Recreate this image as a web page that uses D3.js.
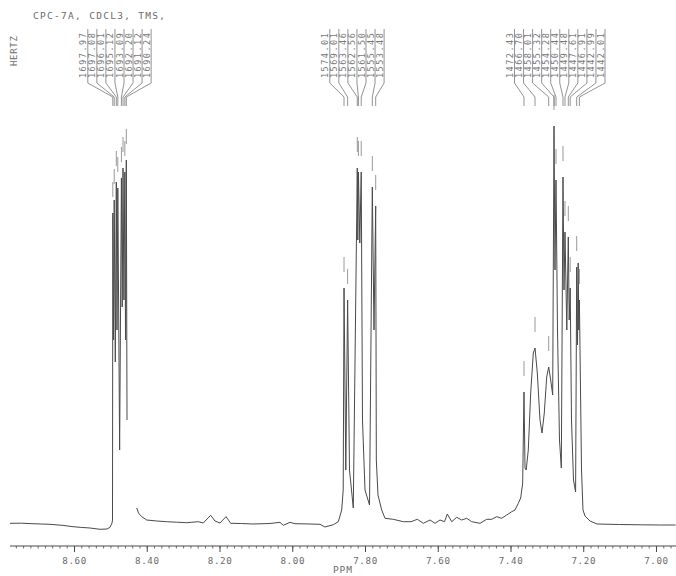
<!DOCTYPE html>
<html>
<head>
<meta charset="utf-8">
<script src="https://cdn.jsdelivr.net/npm/d3@7"></script>
<style>
  html, body { margin: 0; padding: 0; background: #fff; }
  svg { display: block; }
  text { font-family: "DejaVu Sans Mono", "Liberation Mono", monospace; }
</style>
</head>
<body>
<svg id="chart" width="676" height="576"></svg>
<script>
// ---------------- DATA ----------------
const titleText = "CPC-7A, CDCL3, TMS,";
const yUnitText = "HERTZ";
const xAxisTitle = "PPM";
const tickLabels = ["8.60", "8.40", "8.20", "8.00", "7.80", "7.60", "7.40", "7.20", "7.00"];
const tickValues = [8.60, 8.40, 8.20, 8.00, 7.80, 7.60, 7.40, 7.20, 7.00];

// spectrum trace (ppm, intensity); null = pen gap
const specPPM = [8.776, 8.745, 8.721, 8.690, 8.666, 8.630, 8.6027, 8.580, 8.556, 8.5285, 8.5093, 8.501, 8.4955, 8.4942,
  8.4933, 8.4914, 8.4895, 8.4865, 8.4837, 8.4818, 8.4796, 8.4746, 8.4697, 8.4675, 8.4653, 8.4628, 8.4603, 8.4584, 8.4562, 8.4543, 8.446,
  8.4276, 8.4227, 8.4139, 8.4001, 8.3725, 8.3452, 8.318, 8.2902, 8.2583, 8.2445, 8.2344, 8.2242, 8.2124, 8.1986, 8.1821, 8.1692, 8.14, 8.1079,
  8.0612, 8.0337, 8.0246, 8.0062, 7.9924, 7.9512, 7.9237, 7.9100, 7.8872, 7.8734, 7.8641, 7.8599,
  7.8577, 7.8528, 7.8478, 7.8426, 7.8322, 7.8212, 7.8198, 7.8181, 7.8143, 7.8104, 7.8069, 7.80, 7.7876, 7.7799, 7.7753, 7.7706, 7.7689, 7.7643,
  7.7541, 7.7450, 7.7222, 7.6947, 7.6735, 7.6562, 7.6397, 7.6213, 7.6076, 7.5938, 7.5814, 7.5737, 7.5616, 7.5479, 7.5342, 7.5204, 7.5067,
  7.4838, 7.4654, 7.4517, 7.4379, 7.4242, 7.4104, 7.3967, 7.3876, 7.3786, 7.3720, 7.3665,
  7.3629, 7.3601, 7.3568, 7.3511, 7.3445, 7.3373, 7.3326, 7.3263, 7.3189, 7.3134, 7.3071, 7.3005, 7.2950, 7.2895, 7.2840,
  7.2804, 7.2777, 7.2749, 7.2708, 7.2653, 7.2603, 7.2557, 7.2529, 7.2502, 7.2452, 7.2411, 7.2386, 7.2359, 7.2323, 7.2268, 7.2210,
  7.2180, 7.2158, 7.2139, 7.2122, 7.2106, 7.2048, 7.2007, 7.1952, 7.1814, 7.162, 7.10, 7.04, 6.99, 6.946];
const specInt = [4.7, 4.8, 4.4, 4.0, 3.7, 2.6, 1.3, 0.6, 0, -1.3, -1.0, 0.7, 5, 8,
  315, 188, 328, 166, 346, 198, 340, 78, 350, 221, 360, 228, 356, 188, 368, 108, null,
  20, 15, 11.3, 8, 7, 6.3, 5.8, 5.3, 6.3, 5, 9, 12.7, 7, 5, 11.3, 4.7, 4.5, 4,
  4.5, 5.7, 2.7, 5.7, 4.3, 4, 3.7, 1, 3.3, 6.3, 18, 38,
  240, 58, 228, 58, 20, 360, 288, 356, 285, 356, 108, 38, 23, 341, 198, 322, 68, 33,
  18, 9.7, 8.7, 6.3, 6.3, 8.7, 4.7, 8, 4.7, 8, 6.3, 14, 6.3, 10.7, 8, 9.7, 6.3,
  4.7, 8.7, 8.7, 11.3, 9.7, 13, 16.3, 18, 24.7, 30, 45,
  136, 60, 58, 78, 135, 175, 180, 155, 108, 95, 115, 151, 161, 148, 133,
  402, 258, 348, 198, 88, 60, 351, 238, 296, 198, 291, 208, 240, 108, 48, 36,
  261, 183, 265, 198, 228, 58, 18, 12, 7, 4, 3.5, 3.2, 3, 3];

// peak lists (labels in Hz, positions in ppm, apex intensity)
const leftLabels = ["1697.97", "1697.08", "1696.01", "1695.12", "1693.09", "1692.20", "1691.12", "1690.24"];
const leftPeakPPM = [8.4933, 8.4895, 8.4837, 8.4796, 8.4697, 8.4653, 8.4603, 8.4562];
const leftPeakInt = [315, 328, 346, 340, 350, 360, 356, 368];

const midLabels = ["1574.01", "1569.01", "1563.46", "1562.56", "1561.50", "1555.45", "1553.48"];
const midPeakPPM = [7.8577, 7.8478, 7.8212, 7.8181, 7.8104, 7.7799, 7.7706];
const midPeakInt = [240, 228, 360, 356, 356, 341, 322];

const rightLabels = ["1472.43", "1466.70", "1458.01", "1455.32", "1454.28", "1450.44", "1449.48", "1447.61", "1446.91", "1442.99", "1442.01"];
const rightPeakPPM = [7.3629, 7.3326, 7.2950, 7.2804, 7.2749, 7.2557, 7.2502, 7.2411, 7.2359, 7.2180, 7.2106];
const rightPeakInt = [136, 180, 161, 402, 348, 351, 296, 291, 240, 261, 228];

// ---------------- DRAW ----------------
const svg = d3.select("#chart");
const x = d3.scaleLinear().domain([8.776, 6.945]).range([10, 676]);
const y = d3.scaleLinear().domain([0, 500]).range([528, 28]);

const ink = "#4a4a4a";
const textInk = "#6a6a6a";

// title
svg.append("text").attr("x", 33).attr("y", 19.3)
  .attr("font-size", 9.5).attr("letter-spacing", 1.3).attr("fill", textInk)
  .text(titleText);

// HERTZ
svg.append("text").attr("transform", "translate(17,66) rotate(-90)")
  .attr("font-size", 9).attr("letter-spacing", 0.7).attr("fill", textInk)
  .text(yUnitText);

// axis
const axisY = 546;
const axisG = svg.append("g").attr("transform", `translate(0,${axisY})`);
const minorTicks = d3.range(0, 92).map(i => +(6.96 + i * 0.02).toFixed(2)).filter(v => v <= 8.776 && v >= 6.945);
const xAxis = d3.axisBottom(x).tickValues(minorTicks).tickSize(2.5).tickFormat("");
axisG.call(xAxis);
axisG.select(".domain").attr("stroke", ink).attr("stroke-width", 1).attr("d", `M10,0H676`);
axisG.selectAll(".tick line").attr("stroke", ink).attr("stroke-width", 0.8);
const majorAxis = d3.axisBottom(x).tickValues(tickValues).tickSize(6)
  .tickFormat((d, i) => tickLabels[i]);
const majG = svg.append("g").attr("transform", `translate(0,${axisY})`).call(majorAxis);
majG.select(".domain").remove();
majG.selectAll(".tick line").attr("stroke", ink).attr("stroke-width", 1);
majG.selectAll(".tick text").attr("y", 11).attr("dy", "0.71em")
  .attr("font-size", 9.2).attr("letter-spacing", 0.6).attr("fill", textInk)
  .attr("font-family", "DejaVu Sans Mono, monospace");

svg.append("text").attr("x", 333).attr("y", 573.3)
  .attr("font-size", 9.5).attr("letter-spacing", 0.9).attr("fill", textInk)
  .text(xAxisTitle);

// spectrum
const specData = specPPM.map((p, i) => [p, specInt[i]]);
const line = d3.line().defined(d => d[1] !== null).x(d => x(d[0])).y(d => y(d[1]));
svg.append("path").datum(specData).attr("d", line)
  .attr("fill", "none").attr("stroke", ink).attr("stroke-width", 1).attr("stroke-linejoin", "round");

// peak markers + labels
function drawGroup(labels, ppms, ints, startX) {
  const g = svg.append("g");
  // markers above apexes
  g.selectAll("line.mk").data(ppms).join("line")
    .attr("x1", d => x(d)).attr("x2", d => x(d))
    .attr("y1", (d, i) => y(ints[i] + 16)).attr("y2", (d, i) => y(ints[i] + 31))
    .attr("stroke", "#999").attr("stroke-width", 1);
  labels.forEach((t, i) => {
    const lx = startX + i * 9.05;
    g.append("text").attr("transform", `translate(${lx},78) rotate(-90)`)
      .attr("dominant-baseline", "central")
      .attr("font-size", 8.5).attr("letter-spacing", 1.5).attr("fill", "#777")
      .text(t);
    const px = x(ppms[i]);
    g.append("path").attr("d", `M${lx + 4.5},29V83L${px},97V106`)
      .attr("fill", "none").attr("stroke", "#777").attr("stroke-width", 0.8);
  });
}
drawGroup(leftLabels, leftPeakPPM, leftPeakInt, 83.3);
drawGroup(midLabels, midPeakPPM, midPeakInt, 325.3);
drawGroup(rightLabels, rightPeakPPM, rightPeakInt, 510);
</script>
</body>
</html>
